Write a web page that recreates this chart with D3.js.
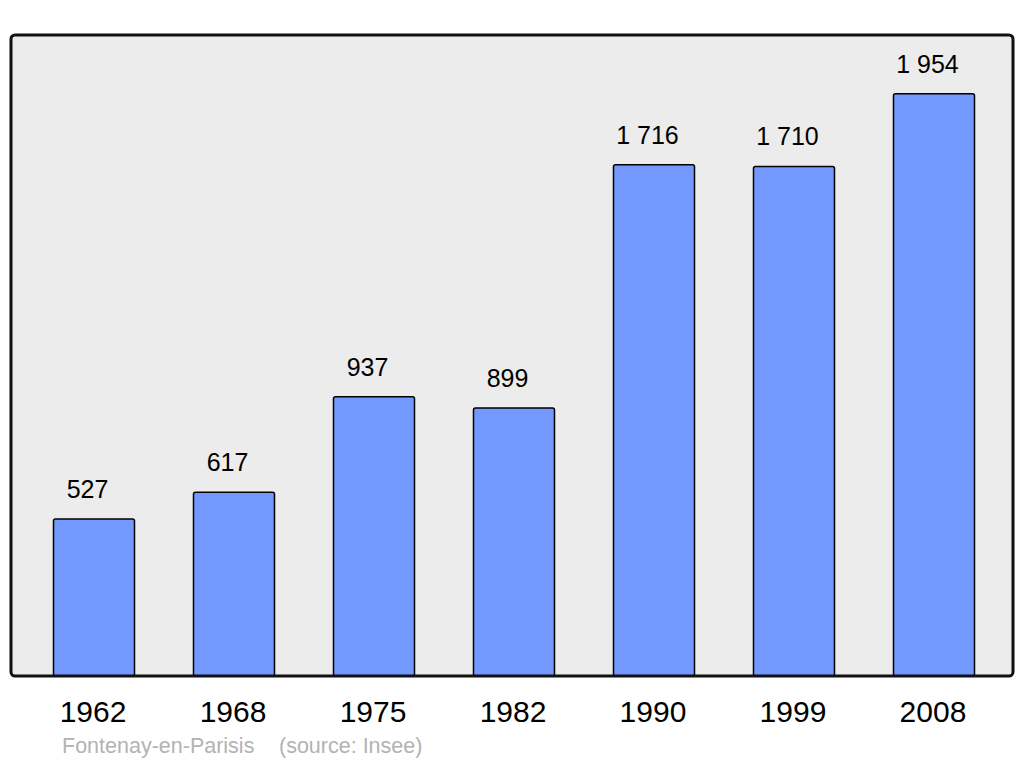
<!DOCTYPE html>
<html>
<head>
<meta charset="utf-8">
<script src="https://cdn.jsdelivr.net/npm/d3@7"></script>
<style>
html,body{margin:0;padding:0;background:#fff;}
svg{display:block;}
text{font-family:"Liberation Sans", Arial, sans-serif;}
</style>
</head>
<body>
<svg id="chart" width="1024" height="765"></svg>
<script>
const years = ["1962", "1968", "1975", "1982", "1990", "1999", "2008"];
const population = [527, 617, 937, 899, 1716, 1710, 1954];
const title = "Fontenay-en-Parisis";
const source = "(source: Insee)";

const svg = d3.select("#chart");
const panel = {x: 11, y: 35, w: 1002, h: 641};
const baseY = panel.y + panel.h;

const x = d3.scaleBand().domain(years).range([18.5, 1009.5]).paddingInner(0.4214).paddingOuter(0.25);
const y = d3.scaleLinear().domain([0, 2151]).range([baseY, panel.y]);

const fmt = d3.formatLocale({decimal: ",", thousands: "\u00a0", grouping: [3], currency: ["", " €"]}).format(",d");

svg.append("rect")
  .attr("x", panel.x).attr("y", panel.y).attr("width", panel.w).attr("height", panel.h)
  .attr("rx", 4).attr("fill", "#ececec").attr("stroke", "none");

const data = years.map((yr, i) => ({yr, v: population[i]}));

svg.selectAll("rect.bar").data(data).join("rect")
  .attr("class", "bar")
  .attr("x", d => x(d.yr))
  .attr("y", d => y(d.v))
  .attr("width", x.bandwidth())
  .attr("height", d => baseY - y(d.v))
  .attr("rx", 2)
  .attr("fill", "#7399ff")
  .attr("stroke", "#000")
  .attr("stroke-width", 1.5);

svg.selectAll("text.val").data(data).join("text")
  .attr("class", "val")
  .attr("x", d => x(d.yr) + x.bandwidth() / 2 - 6.5)
  .attr("y", d => y(d.v) - 21)
  .attr("text-anchor", "middle")
  .attr("font-size", 25)
  .attr("fill", "#000")
  .text(d => fmt(d.v));

// panel border on top
svg.append("rect")
  .attr("x", panel.x).attr("y", panel.y).attr("width", panel.w).attr("height", panel.h)
  .attr("rx", 4).attr("fill", "none").attr("stroke", "#111").attr("stroke-width", 3);

const xAxis = d3.axisBottom(x).tickSize(0).tickPadding(0);
const gx = svg.append("g").attr("transform", `translate(0,${baseY})`).call(xAxis);
gx.select(".domain").remove();
gx.selectAll("text")
  .attr("dy", null)
  .attr("y", 46)
  .attr("dx", -1)
  .attr("font-size", 30)
  .attr("font-family", "Liberation Sans, Arial, sans-serif")
  .attr("fill", "#000");

svg.append("text")
  .attr("x", 62).attr("y", 753)
  .attr("font-size", 21.5).attr("fill", "#b3b3b3")
  .text(title);
svg.append("text")
  .attr("x", 279).attr("y", 753)
  .attr("font-size", 21.5).attr("fill", "#b3b3b3")
  .text(source);
</script>
</body>
</html>
